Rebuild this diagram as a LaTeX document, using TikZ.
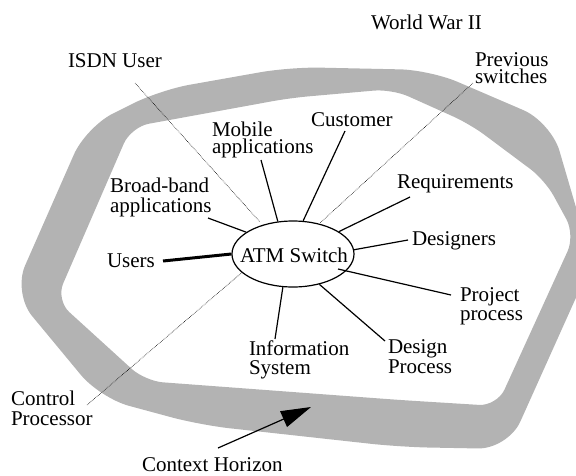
\documentclass[tikz,border=0pt]{standalone}
\usepackage{fontspec}
\setmainfont{Liberation Serif}
\usetikzlibrary{arrows.meta,shapes.geometric}
\newcommand{\twolines}[3]{\vtop{\baselineskip=#3pt\lineskiplimit=-20pt\hbox{#1}\hbox{#2}}}
\definecolor{bandgray}{HTML}{B3B3B3}
\begin{document}
\begin{tikzpicture}[x=1pt,y=-1pt,
  lbl/.style={anchor=base west, inner sep=0pt, outer sep=0pt, font=\fontsize{21}{20}\selectfont},
  conn/.style={line width=1.2pt},
  thickconn/.style={line width=3pt},
  dotconn/.style={line width=0.6pt, densely dotted},
  band/.style={fill=bandgray, even odd rule}]
\useasboundingbox (0,0) rectangle (576,475);
\clip (0,0) rectangle (576,475);

% context horizon band
\fill[band]
  [rounded corners=30pt]
  (13,293) -- (86,127) -- (160,90) -- (290,67) -- (430,70) -- (551,122)
  -- (592,262) -- (508,449) -- (400,447) -- (200,425) -- (100,398) -- cycle
  [rounded corners=18pt]
  (56,300) -- (131,127) -- (290,98) -- (392,89) -- (470,124) -- (545,180)
  -- (575,235) -- (497,406) -- (400,400) -- (145,381) -- cycle;

% central node
\node[ellipse, draw, line width=1.2pt, minimum width=122pt, minimum height=66pt, inner sep=0pt] (atm) at (293,254) {};
\node[lbl] (atmtxt) at (240,262) {ATM Switch};

% labels
\node[lbl] (ww2) at (371,29) {World War II};
\node[lbl] (isdn) at (68,67) {ISDN User};
\node[lbl] (prev) at (475,66) {\twolines{Previous}{switches}{17}};
\node[lbl] (cust) at (311,126) {Customer};
\node[lbl] (mobile) at (212,136) {\twolines{Mobile}{applications}{17}};
\node[lbl] (broad) at (110,192) {\twolines{Broad-band}{applications}{20}};
\node[lbl] (req) at (397,188) {Requirements};
\node[lbl] (des) at (412,245) {Designers};
\node[lbl] (users) at (107,267) {Users};
\node[lbl] (proj) at (460,301) {\twolines{Project}{process}{19}};
\node[lbl] (dproc) at (388,353) {\twolines{Design}{Process}{20}};
\node[lbl] (info) at (249,355) {\twolines{Information}{System}{19}};
\node[lbl] (ctrl) at (11,405) {\twolines{Control}{Processor}{20}};
\node[lbl] (ctx) at (142,471) {Context Horizon};

% connector ends near labels
\coordinate (e-broad) at (208,218);
\coordinate (e-mobile) at (261,160);
\coordinate (e-cust) at (345,131);
\coordinate (e-prev) at (473,83);
\coordinate (e-req) at (410,197);
\coordinate (e-des) at (408,240);
\coordinate (e-proj) at (451,295);
\coordinate (s-proj) at (338,269);
\coordinate (e-dproc) at (385,341);
\coordinate (e-info) at (275,339);
\coordinate (e-users) at (163,261);
\coordinate (e-isdn) at (135,83);
\coordinate (s-isdn) at (260,222);
\coordinate (e-ctrl) at (87,405);
\coordinate (s-prev) at (320,223);
\coordinate (e-ctx) at (218,448);
\coordinate (tip-ctx) at (311,407);

% connectors
\draw[conn] (e-broad) -- (atm.155);
\draw[conn] (e-mobile) -- (atm.115);
\draw[conn] (e-cust) -- (atm.73);
\draw[conn] (e-req) -- (atm.26);
\draw[conn] (e-des) -- (atm.4);
\draw[conn] (e-proj) -- (s-proj);
\draw[conn] (e-dproc) -- (atm.-49);
\draw[conn] (e-info) -- (atm.-107);
\draw[thickconn] (e-users) -- (atm.180);
\draw[dotconn] (e-isdn) -- (s-isdn);
\draw[dotconn] (e-prev) -- (s-prev);
\draw[dotconn] (e-ctrl) -- (atm.-160);
\draw[conn, -{Triangle[length=30pt,width=17pt]}] (e-ctx) -- (tip-ctx);
\end{tikzpicture}
\end{document}
